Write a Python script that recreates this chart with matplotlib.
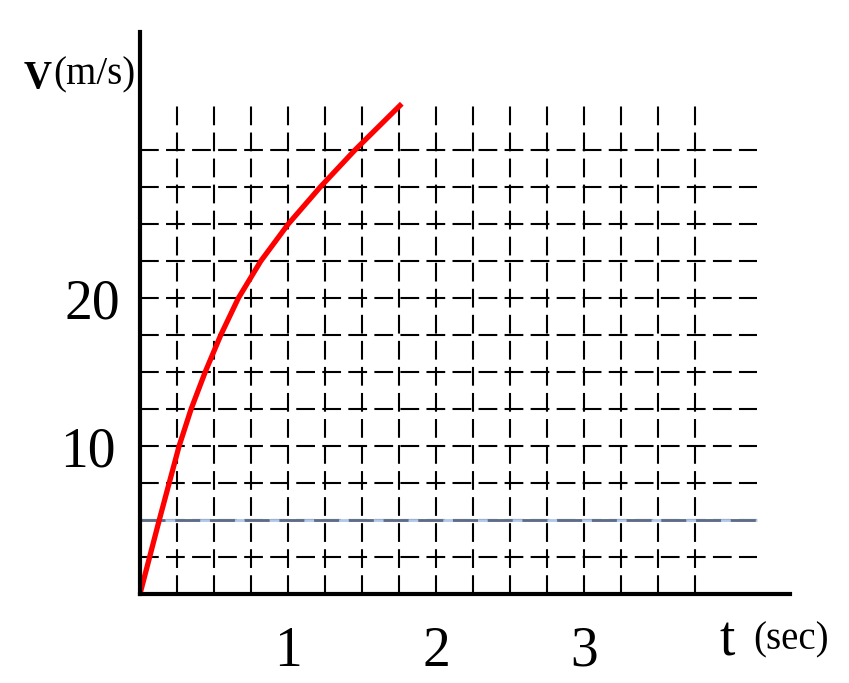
import numpy as np
import matplotlib
matplotlib.use("Agg")
import matplotlib.pyplot as plt

# velocity curve (t in s, v in m/s)
t_vals = [0, 0.065, 0.13, 0.197, 0.264, 0.345, 0.44, 0.545, 0.664, 0.815, 1.0, 1.216, 1.45, 1.768]
v_vals = [0, 2.5, 5.0, 7.5, 10.0, 12.5, 15.0, 17.5, 20.0, 22.5, 25.0, 27.5, 30.0, 33.15]

# grid positions
t_grid = np.arange(0.25, 3.76, 0.25)
v_grid = np.arange(2.5, 30.1, 2.5)
x_ticks = [1, 2, 3]
x_labels = ["1", "2", "3"]
y_ticks = [10, 20]
y_labels = ["10", "20"]

plt.rcParams['font.family'] = ['Liberation Serif', 'DejaVu Serif']

W, H = 849, 683
fig = plt.figure(figsize=(W / 100, H / 100), dpi=100)
ax = fig.add_axes([140 / W, (H - 594) / H, 650 / W, 562 / H])
ax.set_xlim(0, 4.39)
ax.set_ylim(0, 38)

dash = (9, 3.5)
ax.hlines(v_grid, 0, 4.17, colors='black', linewidth=1.5, linestyles=[(0, dash)])
ax.vlines(t_grid, 0, 33.4, colors='black', linewidth=1.5, linestyles=[(0, dash)])
# the bluish line at 5 m/s
ax.hlines([5], 0, 4.17, colors='#b0c8ea', linewidth=2.0, zorder=2.5)
ax.hlines([5], 0, 4.17, colors='#5d6b85', linewidth=2.0, linestyles=[(0, dash)], zorder=2.6)

ax.plot(t_vals, v_vals, color='#ff0000', linewidth=3.8, solid_capstyle='butt',
        solid_joinstyle='round', zorder=4)

for s in ['top', 'right']:
    ax.spines[s].set_visible(False)
for s in ['left', 'bottom']:
    ax.spines[s].set_linewidth(3.0)
    ax.spines[s].set_zorder(5)

ax.set_xticks(x_ticks, x_labels)
ax.set_yticks(y_ticks, y_labels)
ax.tick_params(axis='x', length=0, pad=23, labelsize=40)
ax.tick_params(axis='y', length=0, pad=14, labelsize=40)
# the "10" sits a little further left than the "20"
ax.get_yticklabels()[0].set_x(-0.008)

def px(x, y):
    return x / W, 1 - y / H

fig.text(*px(24, 88), "V", fontsize=28, fontweight='bold', ha='left', va='baseline')
fig.text(*px(53, 75), "(m/s)", fontsize=28, ha='left', va='center')
fig.text(*px(720, 656), "t", fontsize=40, ha='left', va='baseline')
fig.text(*px(753, 640), "(sec)", fontsize=28, ha='left', va='center')

fig.savefig("out.png", dpi=100)
